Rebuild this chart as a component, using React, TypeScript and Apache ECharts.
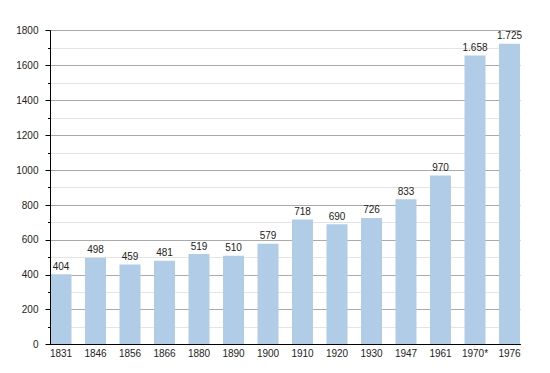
import React, { useEffect, useRef } from "react";
import * as echarts from "echarts";

const categories = ["1831", "1846", "1856", "1866", "1880", "1890", "1900", "1910", "1920", "1930", "1947", "1961", "1970*", "1976"];
const population = [404, 498, 459, 481, 519, 510, 579, 718, 690, 726, 833, 970, 1658, 1725];
const yMin = 0;
const yMax = 1800;
const yInterval = 200;

const FONT = "'Liberation Sans', Arial, sans-serif";
const TEXT = "#222";

function fmt(v: number): string {
  const s = String(Math.round(v));
  return s.replace(/\B(?=(\d{3})+(?!\d))/g, ".");
}

export default function App() {
  const ref = useRef<HTMLDivElement>(null);
  useEffect(() => {
    document.body.style.margin = "0";
    const chart = echarts.init(ref.current!, undefined, { renderer: "svg" });
    const top = 30.7;
    const bottom = 28.4;
    chart.setOption({
      animation: false,
      backgroundColor: "#fff",
      grid: [
        { left: 50.5, right: 29.5, top, bottom },
        { left: 43.75, right: 23.25, top, bottom },
      ],
      xAxis: [
        {
          gridIndex: 0,
          type: "value",
          min: 0,
          max: 1,
          z: 5,
          axisLine: { show: true, lineStyle: { color: "#000", width: 1 } },
          axisTick: { show: false },
          axisLabel: { show: false },
          splitLine: { show: false },
        },
        {
          gridIndex: 1,
          type: "category",
          data: categories,
          boundaryGap: true,
          axisLine: { show: false },
          axisTick: { show: false },
          axisLabel: { color: TEXT, fontSize: 10, fontFamily: FONT, margin: 4, interval: 0 },
        },
      ],
      yAxis: [
        {
          gridIndex: 0,
          type: "value",
          min: yMin,
          max: yMax,
          interval: yInterval,
          axisLine: { show: false },
          axisTick: { show: true, length: 5, lineStyle: { color: "#000" } },
          minorTick: { show: true, splitNumber: 2, length: 2.5, lineStyle: { color: "#000" } },
          axisLabel: {
            color: TEXT,
            fontSize: 10,
            fontFamily: FONT,
            margin: 12,
            formatter: (v: number) => String(v),
          },
          splitLine: { show: true, lineStyle: { color: "#aaaaaa", width: 1 } },
          minorSplitLine: { show: true, lineStyle: { color: "#e4e4e4", width: 1 } },
        },
        {
          gridIndex: 0,
          type: "value",
          min: yMin,
          max: yMax,
          position: "left",
          z: 5,
          axisLine: { show: true, lineStyle: { color: "#000", width: 1 } },
          axisTick: { show: false },
          axisLabel: { show: false },
          splitLine: { show: false },
        },
        {
          gridIndex: 1,
          type: "value",
          min: yMin,
          max: yMax,
          show: false,
          splitLine: { show: false },
        },
      ],
      series: [
        {
          type: "bar",
          xAxisIndex: 1,
          yAxisIndex: 2,
          data: population,
          barWidth: 21,
          itemStyle: { color: "#b1cce6" },
          label: {
            show: true,
            position: "top",
            distance: 3,
            color: TEXT,
            fontSize: 10,
            fontFamily: FONT,
            formatter: (p: any) => fmt(p.value),
          },
        },
      ],
    });
    return () => chart.dispose();
  }, []);
  return <div ref={ref} style={{ width: 550, height: 373 }} />;
}
